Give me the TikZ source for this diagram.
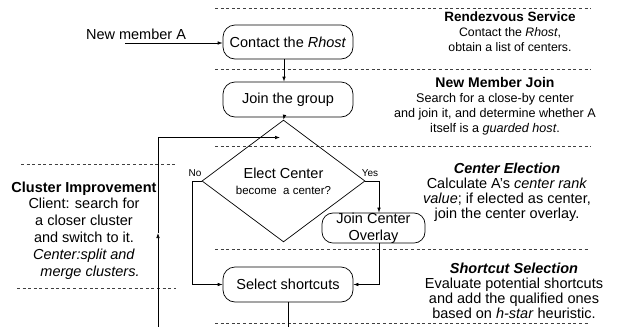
\documentclass[tikz,border=0pt]{standalone}
\usepackage{fontspec}
\setmainfont{Liberation Sans}
\usetikzlibrary{shapes.geometric,arrows.meta,calc}
\newcommand{\nmsmall}{\fontsize{12.6}{14.7}\selectfont}
\begin{document}
\begin{tikzpicture}[x=1pt,y=-1pt,
  every node/.style={font=\fontsize{14.5}{14.7}\selectfont},
  proc/.style={draw,rounded corners=12pt,line width=0.7pt,inner sep=0pt,align=center},
  sepline/.style={dash pattern=on 3pt off 2.6pt,line width=0.6pt,black!75},
  arr/.style={line width=0.7pt,-{Latex[length=5pt,width=3.6pt]}},
  desc/.style={align=center,inner sep=0pt,anchor=base},
  small/.style={font=\fontsize{10}{12}\selectfont,inner sep=0pt}]
\useasboundingbox (0,0) rectangle (630,327);
% dashed separators
\draw[sepline] (215,8.5) -- (591,8.5);
\draw[sepline] (215,69) -- (591,69);
\draw[sepline] (215,146) -- (591,146);
\draw[sepline] (215,249) -- (589,249);
\draw[sepline] (215,323) -- (589,323);
\draw[sepline] (21,164) -- (177,164);
\draw[sepline] (17,288) -- (176,288);
% process nodes
\node[proc,minimum width=130pt,minimum height=34pt] (contact) at (288,42) {Contact the \textit{Rhost}};
\node[proc,minimum width=130pt,minimum height=35pt] (join) at (288,99.5) {Join the group};
\node[draw,diamond,line width=0.7pt,minimum width=163pt,minimum height=68pt,inner sep=0pt,align=center,
  font=\fontsize{14.5}{16}\selectfont] (elect) at (283.5,181)
  {Elect Center\\{\fontsize{11.5}{16}\selectfont become\ \ a center?}};
\node[proc,minimum width=103pt,minimum height=30pt,rounded corners=11pt,font=\fontsize{14.5}{16.5}\selectfont] (overlay) at (373.5,228) {Join Center\\Overlay};
\node[proc,minimum width=130pt,minimum height=35pt] (select) at (288,284.5) {Select shortcuts};
% input
\node[inner sep=0pt] (newA) at (136,34) {New member A};
\coordinate (nA) at (125,43);
\draw[arr] (nA) -- (nA -| contact.west);
% main flow
\coordinate (col) at (284,0);
\draw[arr] (contact.south -| col) -- (join.north -| col);
\draw[arr] (join.south -| col) -- (elect.north);
% No branch
\node[small] (no) at (195,173) {No};
\draw[arr] (elect.west) -- ++(-9,0) |- (select.west);
% Yes branch
\node[small] (yes) at (370,173) {Yes};
\coordinate (ycol) at (379,0);
\draw[arr] (elect.east) -| (ycol |- overlay.north);
\draw[arr] (ycol |- overlay.south) |- (select.east);
% loop
\coordinate (lbot) at (158,335);
\coordinate (lmid) at (158,233);
\coordinate (ltop) at (158,137.5);
\draw[arr] (select.south -| 288,0) |- (lbot) -- (lmid);
\draw[arr,shorten >=4pt] (lmid) -- (ltop) -- (ltop -| col);
% right descriptions
\node[desc] (d1) at (510,51) {{\fontsize{13.5}{14}\selectfont\textbf{Rendezvous Service}}\\{\fontsize{12.3}{14}\selectfont Contact the \textit{Rhost},}\\{\fontsize{12.3}{14}\selectfont obtain a list of centers.}};
\node[desc] (d2) at (495,132) {{\fontsize{14}{14.7}\selectfont\textbf{New Member Join}}\\{\nmsmall Search for a close-by center}\\{\nmsmall and join it, and determine whether A}\\{\nmsmall itself is a \textit{guarded host}.}};
\node[desc] (d3) at (507,218) {\textbf{\textit{Center Election}}\\Calculate A’s \textit{center rank}\\\textit{value}; if elected as center,\\join the center overlay.};
\node[desc] (d4) at (514,318) {\textbf{\textit{Shortcut Selection}}\\Evaluate potential shortcuts\\and add the qualified ones\\based on \textit{h-star} heuristic.};
% left description
\node[desc,font=\fontsize{14.5}{16.8}\selectfont] (d5) at (84,276) {\textbf{Cluster Improvement}\\Client: search for\\a closer cluster\\and switch to it.\\\textit{Center:split and}\\\hspace*{12pt}\textit{merge clusters.}};
\end{tikzpicture}
\end{document}
